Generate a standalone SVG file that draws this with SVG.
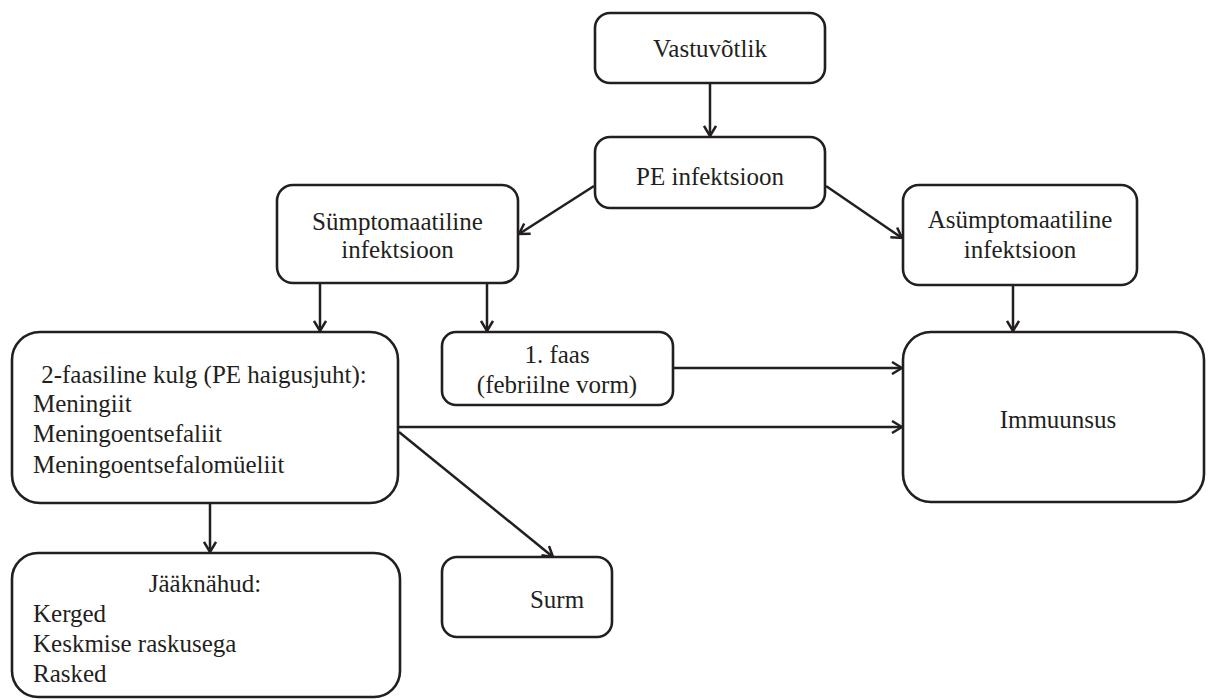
<svg xmlns="http://www.w3.org/2000/svg" width="1208" height="700" viewBox="0 0 1208 700">
<defs>
<marker id="arr" viewBox="0 0 12 14" refX="11" refY="7" markerWidth="12" markerHeight="14" markerUnits="userSpaceOnUse" orient="auto">
<path d="M1,1 L11,7 L1,13" fill="none" stroke="#231f20" stroke-width="2.5" stroke-linejoin="miter"/>
</marker>
<style>
.box{fill:#fff;stroke:#231f20;stroke-width:2.6}
.t{font-family:'Liberation Serif',Tinos,'Times New Roman',Times,'DejaVu Serif',serif;font-size:25px;fill:#231f20}
.c{text-anchor:middle}
.ln{stroke:#231f20;stroke-width:2.5;fill:none}
</style>
</defs>
<rect width="1208" height="700" fill="#fff"/>
<g id="connectors">
<line class="ln" x1="710" y1="83" x2="710" y2="136" marker-end="url(#arr)"/>
<line class="ln" x1="594" y1="186" x2="519" y2="234" marker-end="url(#arr)"/>
<line class="ln" x1="826" y1="186" x2="902" y2="238" marker-end="url(#arr)"/>
<line class="ln" x1="320" y1="284" x2="320" y2="331" marker-end="url(#arr)"/>
<line class="ln" x1="487" y1="284" x2="487" y2="331" marker-end="url(#arr)"/>
<line class="ln" x1="1013" y1="286" x2="1013" y2="331" marker-end="url(#arr)"/>
<line class="ln" x1="674" y1="368" x2="902" y2="368" marker-end="url(#arr)"/>
<line class="ln" x1="399" y1="427" x2="902" y2="427" marker-end="url(#arr)"/>
<line class="ln" x1="399" y1="432" x2="553" y2="557" marker-end="url(#arr)"/>
<line class="ln" x1="210" y1="504" x2="210" y2="552" marker-end="url(#arr)"/>
</g>
<g id="vastuvotlik">
<rect class="box" x="595" y="13" width="230" height="70" rx="15"/>
<text class="t c" x="710" y="57" font-family="Liberation Serif, serif">Vastuvõtlik</text>
</g>
<g id="pe-infektsioon">
<rect class="box" x="595" y="137" width="230" height="71" rx="15"/>
<text class="t c" x="710" y="185">PE infektsioon</text>
</g>
<g id="symptomaatiline">
<rect class="box" x="277" y="185" width="241" height="98" rx="16"/>
<text class="t c" x="397.5" y="230">Sümptomaatiline</text>
<text class="t c" x="397.5" y="258">infektsioon</text>
</g>
<g id="asymptomaatiline">
<rect class="box" x="903" y="185" width="234" height="100" rx="16"/>
<text class="t c" x="1020" y="228">Asümptomaatiline</text>
<text class="t c" x="1020" y="258">infektsioon</text>
</g>
<g id="kahefaasiline">
<rect class="box" x="12" y="332" width="386" height="171" rx="28"/>
<text class="t c" x="204" y="383">2-faasiline kulg (PE haigusjuht):</text>
<text class="t" x="33" y="412">Meningiit</text>
<text class="t" x="33" y="442">Meningoentsefaliit</text>
<text class="t" x="33" y="473">Meningoentsefalomüeliit</text>
</g>
<g id="faas1">
<rect class="box" x="442" y="332" width="231" height="73" rx="14"/>
<text class="t c" x="557" y="363">1. faas</text>
<text class="t c" x="557" y="393">(febriilne vorm)</text>
</g>
<g id="immuunsus">
<rect class="box" x="903" y="332" width="301" height="170" rx="28"/>
<text class="t c" x="1058" y="428">Immuunsus</text>
</g>
<g id="jaaknahud">
<rect class="box" x="12" y="553" width="388" height="144" rx="26"/>
<text class="t c" x="205" y="592">Jääknähud:</text>
<text class="t" x="33" y="622">Kerged</text>
<text class="t" x="33" y="652">Keskmise raskusega</text>
<text class="t" x="33" y="682">Rasked</text>
</g>
<g id="surm">
<rect class="box" x="442" y="557" width="170" height="80" rx="15"/>
<text class="t c" x="557" y="608">Surm</text>
</g>
</svg>
